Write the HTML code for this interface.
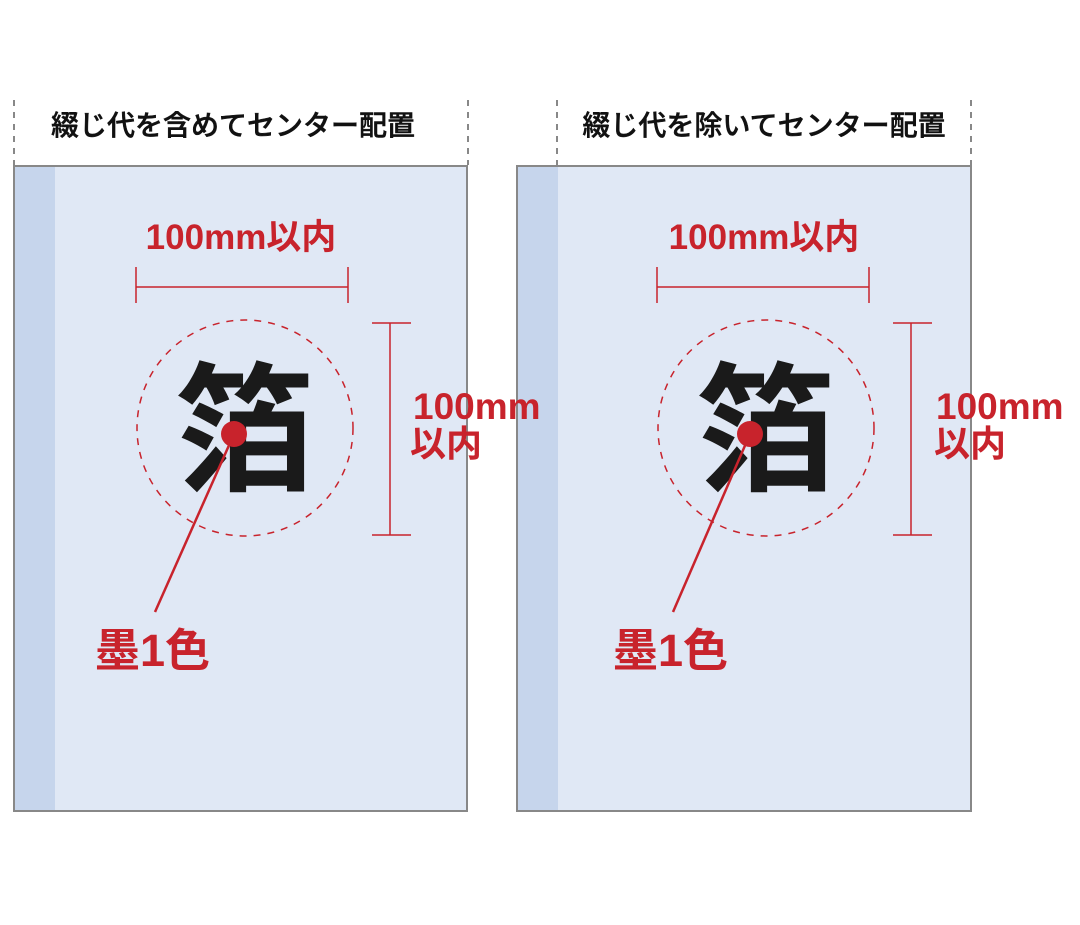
<!DOCTYPE html>
<html><head><meta charset="utf-8"><style>
body{margin:0;background:#fff;}
svg text{font-family:"Liberation Sans","Noto Sans CJK JP",sans-serif;}
</style></head><body>
<svg width="1080" height="920" viewBox="0 0 1080 920" xmlns="http://www.w3.org/2000/svg">
<g stroke="#888" stroke-width="2" stroke-dasharray="6,6">
<line x1="14" y1="100" x2="14" y2="165"/>
<line x1="468" y1="100" x2="468" y2="165"/>
<line x1="557" y1="100" x2="557" y2="165"/>
<line x1="971" y1="100" x2="971" y2="165"/>
</g>
<rect x="14" y="166" width="453" height="645" fill="#e0e8f5" stroke="#888" stroke-width="2"/>
<rect x="15" y="167" width="40" height="643" fill="#c6d5ec"/>
<rect x="517" y="166" width="454" height="645" fill="#e0e8f5" stroke="#888" stroke-width="2"/>
<rect x="518" y="167" width="40" height="643" fill="#c6d5ec"/>
<text x="233" y="135" font-size="28" font-weight="500" fill="#111" text-anchor="middle" stroke="#111" stroke-width="0.5">綴じ代を含めてセンター配置</text>
<text x="764" y="135" font-size="28" font-weight="500" fill="#111" text-anchor="middle" stroke="#111" stroke-width="0.5">綴じ代を除いてセンター配置</text>
<g>
<text x="241" y="249" font-size="35" font-weight="bold" fill="#c8232c" text-anchor="middle">100mm以内</text>
<g stroke="#c8232c" stroke-width="1.5" fill="none">
<line x1="136" y1="287" x2="348" y2="287"/>
<line x1="136" y1="267" x2="136" y2="303"/>
<line x1="348" y1="267" x2="348" y2="303"/>
<line x1="390" y1="323" x2="390" y2="535"/>
<line x1="372" y1="323" x2="411" y2="323"/>
<line x1="372" y1="535" x2="411" y2="535"/>
<circle cx="245" cy="428" r="108" stroke-dasharray="7,7"/>
</g>
<text x="245" y="480" font-size="140" font-weight="bold" fill="#1a1a1a" text-anchor="middle">箔</text>
<line x1="234" y1="434" x2="155" y2="612" stroke="#c8232c" stroke-width="2.5"/>
<circle cx="234" cy="434" r="13" fill="#c8232c"/>
<text x="95" y="666" font-size="45" font-weight="bold" fill="#c8232c">墨1色</text>
<text x="413" y="419" font-size="37" font-weight="bold" fill="#c8232c">100mm</text>
<text x="410" y="456" font-size="36" font-weight="bold" fill="#c8232c">以内</text>
</g>
<g transform="translate(521,0)">
<text x="243" y="249" font-size="35" font-weight="bold" fill="#c8232c" text-anchor="middle">100mm以内</text>
<g stroke="#c8232c" stroke-width="1.5" fill="none">
<line x1="136" y1="287" x2="348" y2="287"/>
<line x1="136" y1="267" x2="136" y2="303"/>
<line x1="348" y1="267" x2="348" y2="303"/>
<line x1="390" y1="323" x2="390" y2="535"/>
<line x1="372" y1="323" x2="411" y2="323"/>
<line x1="372" y1="535" x2="411" y2="535"/>
<circle cx="245" cy="428" r="108" stroke-dasharray="7,7"/>
</g>
<text x="245" y="480" font-size="140" font-weight="bold" fill="#1a1a1a" text-anchor="middle">箔</text>
<line x1="229" y1="434" x2="152" y2="612" stroke="#c8232c" stroke-width="2.5"/>
<circle cx="229" cy="434" r="13" fill="#c8232c"/>
<text x="92" y="666" font-size="45" font-weight="bold" fill="#c8232c">墨1色</text>
<text x="415" y="419" font-size="37" font-weight="bold" fill="#c8232c">100mm</text>
<text x="413" y="456" font-size="36" font-weight="bold" fill="#c8232c">以内</text>
</g>
</svg>
</body></html>
